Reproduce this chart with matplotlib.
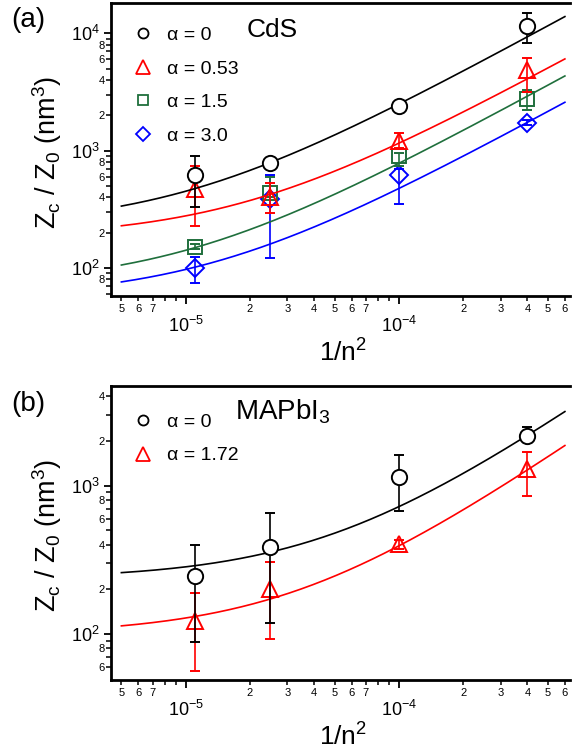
import numpy as np
import matplotlib
matplotlib.use('Agg')
import matplotlib.pyplot as plt
from matplotlib.lines import Line2D
from matplotlib.ticker import FixedLocator, FixedFormatter

plt.rcParams['font.family'] = ['Liberation Sans', 'DejaVu Sans']
plt.rcParams['mathtext.fontset'] = 'custom'
plt.rcParams['mathtext.rm'] = 'Liberation Sans'
plt.rcParams['mathtext.it'] = 'Liberation Sans:italic'
plt.rcParams['mathtext.bf'] = 'Liberation Sans:bold'

# ---------------- data ----------------
x_pts = [1.11e-5, 2.5e-5, 1.0e-4, 4.0e-4]

# panel (a) CdS
cds_labels = ['α = 0', 'α = 0.53', 'α = 1.5', 'α = 3.0']
cds_black = [620, 788, 2414, 11600]
cds_black_lo = [330, 750, 2300, 8220]
cds_black_hi = [900, 830, 2520, 14800]
cds_red = [471, 405, 1211, 4864]
cds_red_lo = [228, 296, 1047, 3177]
cds_red_hi = [743, 530, 1405, 6120]
cds_green = [152, 435, 896, 2735]
cds_green_lo = [145, 400, 743, 2218]
cds_green_hi = [160, 600, 960, 3300]
cds_blue = [100, 385, 620, 1730]
cds_blue_lo = [75, 121, 351, 1650]
cds_blue_hi = [125, 620, 700, 1820]
cds_fit_A = [223, 180, 70.5, 55]
cds_fit_B = [2.274e7, 9.77e6, 7.09e6, 4.21e6]

# panel (b) MAPbI3
mapbi_labels = ['α = 0', 'α = 1.72']
mapbi_black = [246, 385, 1144, 2178]
mapbi_black_lo = [87.7, 118, 672, 1967]
mapbi_black_hi = [401, 655, 1616, 2477]
mapbi_red = [122, 200, 407, 1295]
mapbi_red_lo = [56.5, 93, 372, 847]
mapbi_red_hi = [188, 305, 430, 1675]
mapbi_fit_A = [235, 98.8]
mapbi_fit_B = [4.876e6, 2.945e6]

fit_x_range = [5e-6, 6e-4]

# ticks
x_major = [1e-5, 1e-4]
x_major_labels = [r'$\mathregular{10^{-5}}$', r'$\mathregular{10^{-4}}$']
x_minor = [5e-6, 6e-6, 7e-6, 8e-6, 9e-6,
           2e-5, 3e-5, 4e-5, 5e-5, 6e-5, 7e-5, 8e-5, 9e-5,
           2e-4, 3e-4, 4e-4, 5e-4, 6e-4]
x_minor_labels = ['5', '6', '7', '', '',
                  '2', '3', '4', '5', '6', '7', '', '',
                  '2', '3', '4', '5', '6']

ya_major = [1e2, 1e3, 1e4]
ya_major_labels = [r'$\mathregular{10^{2}}$', r'$\mathregular{10^{3}}$', r'$\mathregular{10^{4}}$']
ya_minor = [60, 70, 80, 90, 200, 300, 400, 500, 600, 700, 800, 900,
            2000, 3000, 4000, 5000, 6000, 7000, 8000, 9000]
ya_minor_labels = ['', '', '8', '', '2', '', '4', '', '6', '', '8', '',
                   '2', '', '4', '', '6', '', '8', '']

yb_major = [1e2, 1e3]
yb_major_labels = [r'$\mathregular{10^{2}}$', r'$\mathregular{10^{3}}$']
yb_minor = [60, 70, 80, 90, 200, 300, 400, 500, 600, 700, 800, 900,
            2000, 3000, 4000]
yb_minor_labels = ['6', '', '8', '', '2', '', '4', '', '6', '', '8', '',
                   '2', '', '4']

xlim = (4.47e-6, 6.34e-4)
ya_lim = (57.7, 18100)
yb_lim = (49, 4700)

RED = '#ff0000'
GREEN = '#1f6f3c'
BLUE = '#0000ff'
BLACK = '#000000'

# ---------------- figure ----------------
W, H = 573, 756
fig = plt.figure(figsize=(W / 100, H / 100), dpi=100)


def px_axes(left, top, right, bottom):
    return fig.add_axes([left / W, 1 - bottom / H, (right - left) / W, (bottom - top) / H])


axa = px_axes(111, 3, 570, 296)
axb = px_axes(111, 386, 570, 680)


def style_axes(ax, ylim, ymaj, ymajl, ymin, yminl):
    ax.set_xscale('log')
    ax.set_yscale('log')
    ax.set_xlim(*xlim)
    ax.set_ylim(*ylim)
    ax.spines['right'].set_visible(False)
    for s in ['left', 'top', 'bottom']:
        ax.spines[s].set_linewidth(2.0)
    ax.xaxis.set_major_locator(FixedLocator(x_major))
    ax.xaxis.set_major_formatter(FixedFormatter(x_major_labels))
    ax.xaxis.set_minor_locator(FixedLocator(x_minor))
    ax.xaxis.set_minor_formatter(FixedFormatter(x_minor_labels))
    ax.yaxis.set_major_locator(FixedLocator(ymaj))
    ax.yaxis.set_major_formatter(FixedFormatter(ymajl))
    ax.yaxis.set_minor_locator(FixedLocator(ymin))
    ax.yaxis.set_minor_formatter(FixedFormatter(yminl))
    ax.tick_params(axis='x', which='major', direction='out', length=6, width=1.3,
                   labelsize=13, pad=8)
    ax.tick_params(axis='x', which='minor', direction='out', length=3.6, width=1.1,
                   labelsize=8, pad=2)
    ax.tick_params(axis='y', which='major', direction='out', length=5, width=1.3,
                   labelsize=13, pad=3)
    ax.tick_params(axis='y', which='minor', direction='out', length=3.6, width=1.1,
                   labelsize=8, pad=0.8)
    ax.tick_params(top=False, right=False, which='both')


style_axes(axa, ya_lim, ya_major, ya_major_labels, ya_minor, ya_minor_labels)
style_axes(axb, yb_lim, yb_major, yb_major_labels, yb_minor, yb_minor_labels)

xf = np.logspace(np.log10(fit_x_range[0]), np.log10(fit_x_range[1]), 300)


def draw(ax, y, lo, hi, A, B, color, marker, ms, mfc, z):
    y = np.array(y, dtype=float)
    err = np.vstack([y - np.array(lo), np.array(hi) - y])
    ax.plot(xf, A + B * xf, color=color, lw=1.2, zorder=z)
    ax.errorbar(x_pts, y, yerr=err, fmt=marker, ms=ms, mfc=mfc, mec=color, mew=1.4,
                ecolor=color, elinewidth=1.2, capsize=3.5, capthick=1.2, color=color,
                zorder=z + 0.5)


# panel (a), drawn back to front
draw(axa, cds_blue, cds_blue_lo, cds_blue_hi, cds_fit_A[3], cds_fit_B[3], BLUE, 'D', 8.8, 'none', 2)
draw(axa, cds_green, cds_green_lo, cds_green_hi, cds_fit_A[2], cds_fit_B[2], GREEN, 's', 10.2, 'none', 3)
draw(axa, cds_red, cds_red_lo, cds_red_hi, cds_fit_A[1], cds_fit_B[1], RED, '^', 11.5, 'none', 4)
draw(axa, cds_black, cds_black_lo, cds_black_hi, cds_fit_A[0], cds_fit_B[0], BLACK, 'o', 11, 'white', 5)

# panel (b)
draw(axb, mapbi_red, mapbi_red_lo, mapbi_red_hi, mapbi_fit_A[1], mapbi_fit_B[1], RED, '^', 11.5, 'none', 2)
draw(axb, mapbi_black, mapbi_black_lo, mapbi_black_hi, mapbi_fit_A[0], mapbi_fit_B[0], BLACK, 'o', 11, 'white', 3)

# legends
leg_a = [Line2D([], [], ls='none', marker='o', ms=7.2, mfc='none', mec=BLACK, mew=1.3),
         Line2D([], [], ls='none', marker='^', ms=9.5, mfc='none', mec=RED, mew=1.3),
         Line2D([], [], ls='none', marker='s', ms=7.0, mfc='none', mec=GREEN, mew=1.3),
         Line2D([], [], ls='none', marker='D', ms=7.2, mfc='none', mec=BLUE, mew=1.3)]
la = axa.legend(leg_a, cds_labels, loc='upper left', bbox_to_anchor=(0.0486, 0.92),
                frameon=False, fontsize=14, handlelength=1.0, handletextpad=0.74,
                labelspacing=0.82, borderpad=0, borderaxespad=0)
leg_b = [Line2D([], [], ls='none', marker='o', ms=7.2, mfc='none', mec=BLACK, mew=1.3),
         Line2D([], [], ls='none', marker='^', ms=9.5, mfc='none', mec=RED, mew=1.3)]
lb = axb.legend(leg_b, mapbi_labels, loc='upper left', bbox_to_anchor=(0.0486, 0.906),
                frameon=False, fontsize=14, handlelength=1.0, handletextpad=0.74,
                labelspacing=0.8, borderpad=0, borderaxespad=0)

fig.text(247 / W, 1 - 37 / H, 'CdS', fontsize=19, ha='left', va='baseline')
fig.text(235 / W, 1 - 420 / H, r'MAPbI$_\mathregular{3}$', fontsize=20, ha='left', va='baseline')

# panel labels
fig.text(11 / W, 1 - 27 / H, '(a)', fontsize=20, ha='left', va='baseline')
fig.text(11 / W, 1 - 411 / H, '(b)', fontsize=20, ha='left', va='baseline')

# axis labels
ylab = r'Z$_\mathregular{c}$ / Z$_\mathregular{0}$ (nm$^\mathregular{3}$)'
fig.text(47 / W, 1 - 152 / H, ylab, fontsize=19.5, rotation=90, ha='center', va='center')
fig.text(47 / W, 1 - 535 / H, ylab, fontsize=19.5, rotation=90, ha='center', va='center')
xlab = r'1/n$^\mathregular{2}$'
fig.text(343 / W, 1 - 361.5 / H, xlab, fontsize=19, ha='center', va='baseline')
fig.text(343 / W, 1 - 745.7 / H, xlab, fontsize=19, ha='center', va='baseline')

fig.savefig('out.png', dpi=100)
